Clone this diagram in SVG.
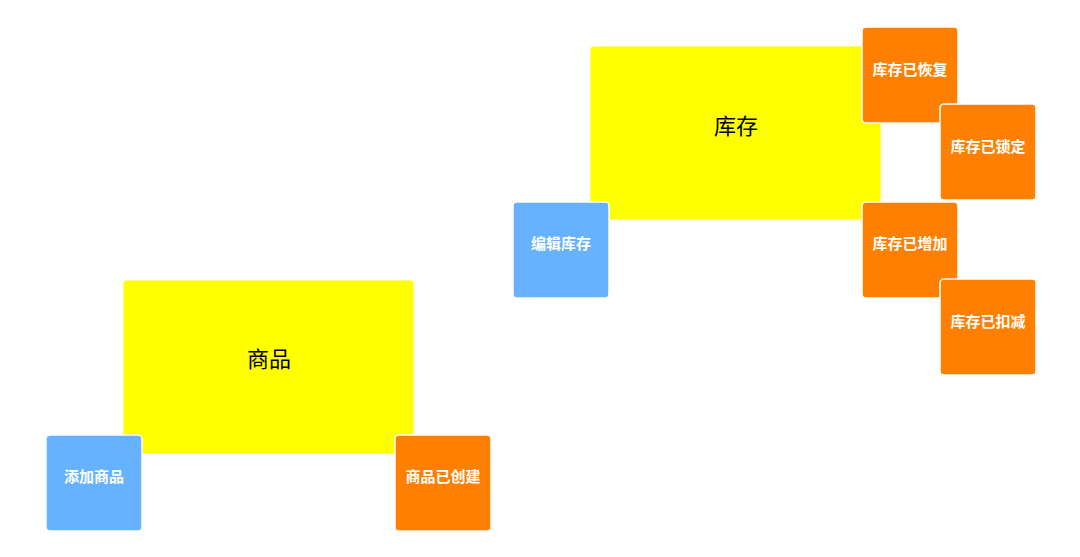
<svg xmlns="http://www.w3.org/2000/svg" width="1080" height="557" viewBox="0 0 1080 557">
<style>
.agg{fill:#ffff00;stroke:#fffbe0;stroke-width:1}
.cmd{fill:#66b2ff;stroke:#ffffff;stroke-width:1.5}
.evt{fill:#ff8000;stroke:#ffffff;stroke-width:1.5}
.t{font-family:"Noto Sans CJK SC","Noto Sans",sans-serif;text-anchor:middle;dominant-baseline:central}
.big{font-size:22px;fill:#000000}
.small{font-size:15px;font-weight:bold;fill:#ffffff}
</style>
<rect width="1080" height="557" fill="#ffffff"/>
<g id="connectors"/>
<g id="agg-kucun">
<rect class="agg" x="590" y="46" width="291" height="174" rx="4"/>
<text class="t big" x="736" y="124">库存</text>
</g>
<g id="agg-shangpin">
<rect class="agg" x="123" y="280" width="291" height="174" rx="4"/>
<text class="t big" x="269" y="357">商品</text>
</g>
<g id="cmd-bianji">
<rect class="cmd" x="513" y="202" width="96" height="96" rx="4"/>
<text class="t small" x="561" y="242">编辑库存</text>
</g>
<g id="evt-huifu">
<rect class="evt" x="862" y="27" width="96" height="96" rx="4"/>
<text class="t small" x="910" y="68">库存已恢复</text>
</g>
<g id="evt-suoding">
<rect class="evt" x="940" y="104" width="96" height="96" rx="4"/>
<text class="t small" x="988" y="145">库存已锁定</text>
</g>
<g id="evt-zengjia">
<rect class="evt" x="862" y="202" width="96" height="96" rx="4"/>
<text class="t small" x="910" y="242">库存已增加</text>
</g>
<g id="evt-koujian">
<rect class="evt" x="940" y="279" width="96" height="96" rx="4"/>
<text class="t small" x="988" y="320">库存已扣减</text>
</g>
<g id="cmd-tianjia">
<rect class="cmd" x="46" y="435" width="96" height="96" rx="4"/>
<text class="t small" x="94" y="475">添加商品</text>
</g>
<g id="evt-chuangjian">
<rect class="evt" x="395" y="435" width="96" height="96" rx="4"/>
<text class="t small" x="443" y="475">商品已创建</text>
</g>
</svg>
